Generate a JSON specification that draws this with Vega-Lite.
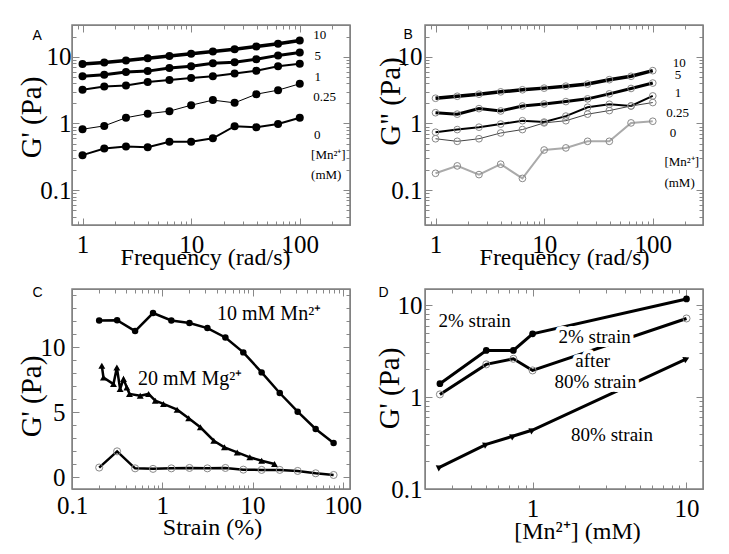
{
  "$schema": "https://vega.github.io/schema/vega-lite/v6.json",
  "background": "white",
  "padding": {"left": 16, "top": 12, "right": 5, "bottom": 5},
  "columns": 2,
  "spacing": {"row": 64, "column": 75},
  "bounds": "flush",
  "datasets": {
    "frame": [{"k": 1}],
    "A": [
      {"f":1,"g":7.8,"mn":10},{"f":1.585,"g":8.2,"mn":10},{"f":2.512,"g":8.8,"mn":10},{"f":3.981,"g":9.5,"mn":10},{"f":6.31,"g":10.3,"mn":10},{"f":10,"g":11.1,"mn":10},{"f":15.85,"g":12.0,"mn":10},{"f":25.12,"g":13.0,"mn":10},{"f":39.81,"g":14.3,"mn":10},{"f":63.1,"g":15.7,"mn":10},{"f":100,"g":17.6,"mn":10},
      {"f":1,"g":5.1,"mn":5},{"f":1.585,"g":5.4,"mn":5},{"f":2.512,"g":5.9,"mn":5},{"f":3.981,"g":6.1,"mn":5},{"f":6.31,"g":6.8,"mn":5},{"f":10,"g":7.2,"mn":5},{"f":15.85,"g":8.0,"mn":5},{"f":25.12,"g":8.3,"mn":5},{"f":39.81,"g":9.2,"mn":5},{"f":63.1,"g":10.5,"mn":5},{"f":100,"g":11.6,"mn":5},
      {"f":1,"g":3.2,"mn":1},{"f":1.585,"g":3.6,"mn":1},{"f":2.512,"g":3.7,"mn":1},{"f":3.981,"g":4.2,"mn":1},{"f":6.31,"g":4.5,"mn":1},{"f":10,"g":4.8,"mn":1},{"f":15.85,"g":5.1,"mn":1},{"f":25.12,"g":5.6,"mn":1},{"f":39.81,"g":6.2,"mn":1},{"f":63.1,"g":7.2,"mn":1},{"f":100,"g":7.9,"mn":1},
      {"f":1,"g":0.82,"mn":0.25},{"f":1.585,"g":0.92,"mn":0.25},{"f":2.512,"g":1.22,"mn":0.25},{"f":3.981,"g":1.40,"mn":0.25},{"f":6.31,"g":1.53,"mn":0.25},{"f":10,"g":1.88,"mn":0.25},{"f":15.85,"g":2.24,"mn":0.25},{"f":25.12,"g":2.04,"mn":0.25},{"f":39.81,"g":2.75,"mn":0.25},{"f":63.1,"g":3.16,"mn":0.25},{"f":100,"g":3.94,"mn":0.25},
      {"f":1,"g":0.335,"mn":0},{"f":1.585,"g":0.42,"mn":0},{"f":2.512,"g":0.45,"mn":0},{"f":3.981,"g":0.44,"mn":0},{"f":6.31,"g":0.53,"mn":0},{"f":10,"g":0.53,"mn":0},{"f":15.85,"g":0.60,"mn":0},{"f":25.12,"g":0.91,"mn":0},{"f":39.81,"g":0.88,"mn":0},{"f":63.1,"g":0.98,"mn":0},{"f":100,"g":1.22,"mn":0}
    ],
    "B": [
      {"f":1,"g":2.39,"mn":10},{"f":1.585,"g":2.56,"mn":10},{"f":2.512,"g":2.75,"mn":10},{"f":3.981,"g":2.98,"mn":10},{"f":6.31,"g":3.2,"mn":10},{"f":10,"g":3.39,"mn":10},{"f":15.85,"g":3.63,"mn":10},{"f":25.12,"g":3.9,"mn":10},{"f":39.81,"g":4.54,"mn":10},{"f":63.1,"g":5.1,"mn":10},{"f":100,"g":6.2,"mn":10},
      {"f":1,"g":1.45,"mn":5},{"f":1.585,"g":1.38,"mn":5},{"f":2.512,"g":1.67,"mn":5},{"f":3.981,"g":1.54,"mn":5},{"f":6.31,"g":1.83,"mn":5},{"f":10,"g":1.96,"mn":5},{"f":15.85,"g":2.13,"mn":5},{"f":25.12,"g":2.34,"mn":5},{"f":39.81,"g":2.78,"mn":5},{"f":63.1,"g":3.35,"mn":5},{"f":100,"g":4.04,"mn":5},
      {"f":1,"g":0.74,"mn":1},{"f":1.585,"g":0.81,"mn":1},{"f":2.512,"g":0.88,"mn":1},{"f":3.981,"g":0.98,"mn":1},{"f":6.31,"g":1.10,"mn":1},{"f":10,"g":1.05,"mn":1},{"f":15.85,"g":1.29,"mn":1},{"f":25.12,"g":1.75,"mn":1},{"f":39.81,"g":1.94,"mn":1},{"f":63.1,"g":1.83,"mn":1},{"f":100,"g":2.59,"mn":1},
      {"f":1,"g":0.59,"mn":0.25},{"f":1.585,"g":0.54,"mn":0.25},{"f":2.512,"g":0.59,"mn":0.25},{"f":3.981,"g":0.72,"mn":0.25},{"f":6.31,"g":0.81,"mn":0.25},{"f":10,"g":1.02,"mn":0.25},{"f":15.85,"g":1.10,"mn":0.25},{"f":25.12,"g":1.38,"mn":0.25},{"f":39.81,"g":1.56,"mn":0.25},{"f":63.1,"g":1.83,"mn":0.25},{"f":100,"g":2.06,"mn":0.25},
      {"f":1,"g":0.179,"mn":0},{"f":1.585,"g":0.231,"mn":0},{"f":2.512,"g":0.171,"mn":0},{"f":3.981,"g":0.245,"mn":0},{"f":6.31,"g":0.150,"mn":0},{"f":10,"g":0.40,"mn":0},{"f":15.85,"g":0.43,"mn":0},{"f":25.12,"g":0.54,"mn":0},{"f":39.81,"g":0.54,"mn":0},{"f":63.1,"g":1.02,"mn":0},{"f":100,"g":1.08,"mn":0}
    ],
    "C": [
      {"s":"Mn","strain":0.2,"g":12.08},{"s":"Mn","strain":0.316,"g":12.1},{"s":"Mn","strain":0.5,"g":11.26},{"s":"Mn","strain":0.79,"g":12.65},{"s":"Mn","strain":1.26,"g":12.08},{"s":"Mn","strain":2,"g":11.88},{"s":"Mn","strain":3.16,"g":11.49},{"s":"Mn","strain":5,"g":10.77},{"s":"Mn","strain":7.9,"g":9.62},{"s":"Mn","strain":12.6,"g":8.08},{"s":"Mn","strain":20,"g":6.49},{"s":"Mn","strain":31.6,"g":5.05},{"s":"Mn","strain":50,"g":3.72},{"s":"Mn","strain":79,"g":2.65},
      {"s":"none","strain":0.2,"g":0.75},{"s":"none","strain":0.316,"g":2.0},{"s":"none","strain":0.5,"g":0.69},{"s":"none","strain":0.79,"g":0.65},{"s":"none","strain":1.26,"g":0.69},{"s":"none","strain":2,"g":0.72},{"s":"none","strain":3.16,"g":0.69},{"s":"none","strain":5,"g":0.72},{"s":"none","strain":7.9,"g":0.59},{"s":"none","strain":12.6,"g":0.57},{"s":"none","strain":20,"g":0.57},{"s":"none","strain":31.6,"g":0.49},{"s":"none","strain":50,"g":0.31},{"s":"none","strain":79,"g":0.18},
      {"s":"Mg","strain":0.214,"g":8.59},{"s":"Mg","strain":0.223,"g":7.69},{"s":"Mg","strain":0.288,"g":7.18},{"s":"Mg","strain":0.314,"g":8.46},{"s":"Mg","strain":0.341,"g":6.8},{"s":"Mg","strain":0.372,"g":7.57},{"s":"Mg","strain":0.405,"g":6.92},{"s":"Mg","strain":0.433,"g":6.42},{"s":"Mg","strain":0.57,"g":6.28},{"s":"Mg","strain":0.705,"g":6.42},{"s":"Mg","strain":0.836,"g":5.9},{"s":"Mg","strain":1.03,"g":5.65},{"s":"Mg","strain":1.46,"g":5.21},{"s":"Mg","strain":1.96,"g":4.54},{"s":"Mg","strain":2.64,"g":3.85},{"s":"Mg","strain":3.72,"g":2.82},{"s":"Mg","strain":4.88,"g":2.31},{"s":"Mg","strain":6.76,"g":1.92},{"s":"Mg","strain":9.33,"g":1.54},{"s":"Mg","strain":12.6,"g":1.28},{"s":"Mg","strain":17.5,"g":1.03}
    ],
    "D": [
      {"s":"2%","mn":0.25,"g":1.4},{"s":"2%","mn":0.5,"g":3.22},{"s":"2%","mn":0.75,"g":3.22},{"s":"2%","mn":1,"g":4.88},{"s":"2%","mn":10,"g":11.7},
      {"s":"after","mn":0.25,"g":1.07},{"s":"after","mn":0.5,"g":2.27},{"s":"after","mn":0.75,"g":2.61},{"s":"after","mn":1,"g":1.95},{"s":"after","mn":10,"g":7.17},
      {"s":"80%","mn":0.25,"g":0.173},{"s":"80%","mn":0.5,"g":0.306},{"s":"80%","mn":0.75,"g":0.377},{"s":"80%","mn":1,"g":0.438},{"s":"80%","mn":10,"g":2.61}
    ],
    "annA": [
      {"x":133,"y":20.9,"t":"10"},{"x":137,"y":10.3,"t":"5"},{"x":137,"y":5.0,"t":"1"},{"x":133,"y":2.5,"t":"0.25"},{"x":135,"y":0.67,"t":"0"},{"x":127,"y":0.336,"t":"[Mn²⁺]"},{"x":127,"y":0.168,"t":"(mM)"}
    ],
    "annB": [
      {"x":153,"y":8.2,"t":"10"},{"x":159,"y":5.35,"t":"5"},{"x":159,"y":2.88,"t":"1"},{"x":133,"y":1.45,"t":"0.25"},{"x":143,"y":0.72,"t":"0"},{"x":128,"y":0.263,"t":"[Mn²⁺]"},{"x":128,"y":0.126,"t":"(mM)"}
    ],
    "annC": [
      {"x":4.04,"y":12.6,"t":"10 mM Mn²⁺"},{"x":0.54,"y":7.6,"t":"20 mM Mg²⁺"}
    ],
    "annD": [
      {"x":0.42,"y":6.7,"t":"2% strain"},{"x":2.53,"y":4.52,"t":"2% strain"},{"x":2.46,"y":2.5,"t":"after"},{"x":2.56,"y":1.47,"t":"80% strain"},{"x":3.28,"y":0.386,"t":"80% strain"}
    ]
  },
  "concat": [
    {
      "width": 278, "height": 200,
      "layer": [
        {
          "data": {"name": "A"},
          "mark": {"type": "line", "color": "black"},
          "encoding": {
            "x": {"field": "f", "type": "quantitative", "scale": {"type": "log", "domain": [0.8, 290], "nice": false},
              "axis": {"orient": "bottom", "values": [0.8,0.9,1,2,3,4,5,6,7,8,9,10,20,30,40,50,60,70,80,90,100,200],
                "labelExpr": "indexof([1,10,100], datum.value) >= 0 ? '' + datum.value : ''",
                "tickSize": {"condition": {"test": "indexof([1,10,100], datum.value) >= 0", "value": -7}, "value": -4},
                "labelBaseline": "alphabetic", "labelPadding": 34,
                "title": "Frequency (rad/s)", "titleFontSize": 24, "titleX": 133, "titleY": 39, "titleBaseline": "alphabetic", "titleAlign": "center"}},
            "y": {"field": "g", "type": "quantitative", "scale": {"type": "log", "domain": [0.03, 30], "nice": false},
              "axis": {"orient": "left", "values": [0.03,0.04,0.05,0.06,0.07,0.08,0.09,0.1,0.2,0.3,0.4,0.5,0.6,0.7,0.8,0.9,1,2,3,4,5,6,7,8,9,10,20,30],
                "labelExpr": "indexof([0.1,1,10], datum.value) >= 0 ? '' + datum.value : ''",
                "tickSize": {"condition": {"test": "indexof([0.1,1,10], datum.value) >= 0", "value": -7}, "value": -4},
                "labelPadding": 8,
                "title": "G' (Pa)", "titleFontSize": 29, "titleX": -32, "titleY": 92, "titleBaseline": "alphabetic", "titleAlign": "center", "titleAngle": -90}},
            "strokeWidth": {"field": "mn", "type": "ordinal", "scale": {"type": "ordinal", "domain": [0,0.25,1,5,10], "range": [2,1,2,3,3.5]}, "legend": null}
          }
        },
        {
          "data": {"name": "A"},
          "mark": {"type": "point", "shape": "circle", "filled": true, "color": "black", "size": 64, "opacity": 1},
          "encoding": {"x": {"field": "f", "type": "quantitative", "axis": null}, "y": {"field": "g", "type": "quantitative", "axis": null}}
        },
        {
          "data": {"name": "annA"},
          "mark": {"type": "text", "align": "left", "baseline": "middle", "font": "Liberation Serif", "fontSize": 13, "color": "black"},
          "encoding": {
            "x": {"field": "x", "type": "quantitative", "axis": {"orient": "top", "labels": false, "values": [0.8,0.9,1,2,3,4,5,6,7,8,9,10,20,30,40,50,60,70,80,90,100,200],
              "tickSize": {"condition": {"test": "indexof([1,10,100], datum.value) >= 0", "value": -7}, "value": -4},
              "title": "A", "titleFont": "Liberation Sans", "titleFontSize": 14, "titleX": -40, "titleY": 3, "titleBaseline": "top", "titleAlign": "left", "titleAngle": 0}},
            "y": {"field": "y", "type": "quantitative", "axis": {"orient": "right", "labels": false, "title": null, "values": [0.03,0.04,0.05,0.06,0.07,0.08,0.09,0.1,0.2,0.3,0.4,0.5,0.6,0.7,0.8,0.9,1,2,3,4,5,6,7,8,9,10,20,30],
              "tickSize": {"condition": {"test": "indexof([0.1,1,10], datum.value) >= 0", "value": -7}, "value": -4}}},
            "text": {"field": "t"}
          }
        },
        {
          "data": {"name": "frame"},
          "mark": {"type": "rect", "fill": "transparent", "stroke": "#808080", "strokeWidth": 1.5},
          "encoding": {"x": {"datum": 0.8, "type": "quantitative", "axis": null}, "x2": {"datum": 290}, "y": {"datum": 0.03, "type": "quantitative", "axis": null}, "y2": {"datum": 30}}
        }
      ],
      "resolve": {"axis": {"x": "independent", "y": "independent"}}
    },
    {
      "width": 278, "height": 200,
      "layer": [
        {
          "data": {"name": "B"},
          "mark": {"type": "line"},
          "encoding": {
            "x": {"field": "f", "type": "quantitative", "scale": {"type": "log", "domain": [0.8, 290], "nice": false},
              "axis": {"orient": "bottom", "values": [0.8,0.9,1,2,3,4,5,6,7,8,9,10,20,30,40,50,60,70,80,90,100,200],
                "labelExpr": "indexof([1,10,100], datum.value) >= 0 ? '' + datum.value : ''",
                "tickSize": {"condition": {"test": "indexof([1,10,100], datum.value) >= 0", "value": -7}, "value": -4},
                "labelBaseline": "alphabetic", "labelPadding": 34,
                "title": "Frequency (rad/s)", "titleFontSize": 24, "titleX": 139, "titleY": 39, "titleBaseline": "alphabetic", "titleAlign": "center"}},
            "y": {"field": "g", "type": "quantitative", "scale": {"type": "log", "domain": [0.03, 30], "nice": false},
              "axis": {"orient": "left", "values": [0.03,0.04,0.05,0.06,0.07,0.08,0.09,0.1,0.2,0.3,0.4,0.5,0.6,0.7,0.8,0.9,1,2,3,4,5,6,7,8,9,10,20,30],
                "labelExpr": "indexof([0.1,1,10], datum.value) >= 0 ? '' + datum.value : ''",
                "tickSize": {"condition": {"test": "indexof([0.1,1,10], datum.value) >= 0", "value": -7}, "value": -4},
                "labelPadding": 10,
                "title": "G\" (Pa)", "titleFontSize": 29, "titleX": -26, "titleY": 76, "titleBaseline": "alphabetic", "titleAlign": "center", "titleAngle": -90}},
            "strokeWidth": {"field": "mn", "type": "ordinal", "scale": {"type": "ordinal", "domain": [0,0.25,1,5,10], "range": [1,1,1.5,3,3.5]}, "legend": null},
            "color": {"field": "mn", "type": "ordinal", "scale": {"type": "ordinal", "domain": [0,0.25,1,5,10], "range": ["#aaaaaa","#444444","#000000","#000000","#000000"]}, "legend": null}
          }
        },
        {
          "data": {"name": "B"},
          "mark": {"type": "point", "shape": "circle", "filled": false, "color": "#888888", "strokeWidth": 1, "size": 45, "opacity": 1},
          "encoding": {"x": {"field": "f", "type": "quantitative", "axis": null}, "y": {"field": "g", "type": "quantitative", "axis": null}}
        },
        {
          "data": {"name": "annB"},
          "mark": {"type": "text", "align": "left", "baseline": "middle", "font": "Liberation Serif", "fontSize": 13, "color": "black"},
          "encoding": {
            "x": {"field": "x", "type": "quantitative", "axis": {"orient": "top", "labels": false, "values": [0.8,0.9,1,2,3,4,5,6,7,8,9,10,20,30,40,50,60,70,80,90,100,200],
              "tickSize": {"condition": {"test": "indexof([1,10,100], datum.value) >= 0", "value": -7}, "value": -4},
              "title": "B", "titleFont": "Liberation Sans", "titleFontSize": 14, "titleX": -22, "titleY": 2, "titleBaseline": "top", "titleAlign": "left", "titleAngle": 0}},
            "y": {"field": "y", "type": "quantitative", "axis": {"orient": "right", "labels": false, "title": null, "values": [0.03,0.04,0.05,0.06,0.07,0.08,0.09,0.1,0.2,0.3,0.4,0.5,0.6,0.7,0.8,0.9,1,2,3,4,5,6,7,8,9,10,20,30],
              "tickSize": {"condition": {"test": "indexof([0.1,1,10], datum.value) >= 0", "value": -7}, "value": -4}}},
            "text": {"field": "t"}
          }
        },
        {
          "data": {"name": "frame"},
          "mark": {"type": "rect", "fill": "transparent", "stroke": "#808080", "strokeWidth": 1.5},
          "encoding": {"x": {"datum": 0.8, "type": "quantitative", "axis": null}, "x2": {"datum": 290}, "y": {"datum": 0.03, "type": "quantitative", "axis": null}, "y2": {"datum": 30}}
        }
      ],
      "resolve": {"axis": {"x": "independent", "y": "independent"}}
    },
    {
      "width": 278, "height": 200,
      "layer": [
        {
          "data": {"name": "C"},
          "mark": {"type": "line", "color": "black", "strokeWidth": 2.5},
          "encoding": {
            "x": {"field": "strain", "type": "quantitative", "scale": {"type": "log", "domain": [0.1, 120], "nice": false},
              "axis": {"orient": "bottom", "values": [0.1,0.2,0.3,0.4,0.5,0.6,0.7,0.8,0.9,1,2,3,4,5,6,7,8,9,10,20,30,40,50,60,70,80,90,100],
                "labelExpr": "indexof([0.1,1,10,100], datum.value) >= 0 ? '' + datum.value : ''",
                "tickSize": {"condition": {"test": "indexof([0.1,1,10,100], datum.value) >= 0", "value": -7}, "value": -4},
                "labelBaseline": "alphabetic", "labelPadding": 31,
                "title": "Strain (%)", "titleFontSize": 24, "titleX": 140, "titleY": 45, "titleBaseline": "alphabetic", "titleAlign": "center"}},
            "y": {"field": "g", "type": "quantitative", "scale": {"domain": [-0.9, 14.5], "nice": false, "zero": false},
              "axis": {"orient": "left", "values": [0,1,2,3,4,5,6,7,8,9,10,11,12,13,14],
                "labelExpr": "indexof([0,5,10], datum.value) >= 0 ? '' + datum.value : ''",
                "tickSize": {"condition": {"test": "indexof([0,5,10], datum.value) >= 0", "value": -7}, "value": -4},
                "labelPadding": 14,
                "title": "G' (Pa)", "titleFontSize": 29, "titleX": -32, "titleY": 107, "titleBaseline": "alphabetic", "titleAlign": "center", "titleAngle": -90}},
            "detail": {"field": "s"}
          }
        },
        {
          "data": {"name": "C"},
          "transform": [{"filter": "datum.s == 'Mn'"}],
          "mark": {"type": "point", "shape": "circle", "filled": true, "color": "black", "size": 42, "opacity": 1},
          "encoding": {"x": {"field": "strain", "type": "quantitative", "axis": null}, "y": {"field": "g", "type": "quantitative", "axis": null}}
        },
        {
          "data": {"name": "C"},
          "transform": [{"filter": "datum.s == 'Mg'"}],
          "mark": {"type": "point", "shape": "triangle-up", "filled": true, "color": "black", "size": 48, "opacity": 1},
          "encoding": {"x": {"field": "strain", "type": "quantitative", "axis": null}, "y": {"field": "g", "type": "quantitative", "axis": null}}
        },
        {
          "data": {"name": "C"},
          "transform": [{"filter": "datum.s == 'none'"}],
          "mark": {"type": "point", "shape": "circle", "filled": false, "color": "#888888", "strokeWidth": 1, "size": 50, "opacity": 1},
          "encoding": {"x": {"field": "strain", "type": "quantitative", "axis": null}, "y": {"field": "g", "type": "quantitative", "axis": null}}
        },
        {
          "data": {"name": "annC"},
          "mark": {"type": "text", "align": "left", "baseline": "middle", "font": "Liberation Serif", "fontSize": 20, "color": "black"},
          "encoding": {
            "x": {"field": "x", "type": "quantitative", "axis": {"orient": "top", "labels": false, "values": [0.1,0.2,0.3,0.4,0.5,0.6,0.7,0.8,0.9,1,2,3,4,5,6,7,8,9,10,20,30,40,50,60,70,80,90,100],
              "tickSize": {"condition": {"test": "indexof([0.1,1,10,100], datum.value) >= 0", "value": -7}, "value": -4},
              "title": "C", "titleFont": "Liberation Sans", "titleFontSize": 14, "titleX": -40, "titleY": -4, "titleBaseline": "top", "titleAlign": "left", "titleAngle": 0}},
            "y": {"field": "y", "type": "quantitative", "axis": {"orient": "right", "labels": false, "title": null, "values": [0,1,2,3,4,5,6,7,8,9,10,11,12,13,14],
              "tickSize": {"condition": {"test": "indexof([0,5,10], datum.value) >= 0", "value": -7}, "value": -4}}},
            "text": {"field": "t"}
          }
        },
        {
          "data": {"name": "frame"},
          "mark": {"type": "rect", "fill": "transparent", "stroke": "#808080", "strokeWidth": 1.5},
          "encoding": {"x": {"datum": 0.1, "type": "quantitative", "axis": null}, "x2": {"datum": 120}, "y": {"datum": -0.9, "type": "quantitative", "axis": null}, "y2": {"datum": 14.5}}
        }
      ],
      "resolve": {"axis": {"x": "independent", "y": "independent"}}
    },
    {
      "width": 278, "height": 200,
      "layer": [
        {
          "data": {"name": "D"},
          "mark": {"type": "line", "color": "black", "strokeWidth": 3},
          "encoding": {
            "x": {"field": "mn", "type": "quantitative", "scale": {"type": "log", "domain": [0.2, 12.8], "nice": false},
              "axis": {"orient": "bottom", "values": [0.2,0.3,0.4,0.5,0.6,0.7,0.8,0.9,1,2,3,4,5,6,7,8,9,10],
                "labelExpr": "indexof([1,10], datum.value) >= 0 ? '' + datum.value : ''",
                "tickSize": {"condition": {"test": "indexof([1,10], datum.value) >= 0", "value": -7}, "value": -4},
                "labelBaseline": "alphabetic", "labelPadding": 34,
                "title": "[Mn²⁺] (mM)", "titleFontSize": 24, "titleX": 152, "titleY": 49, "titleBaseline": "alphabetic", "titleAlign": "center"}},
            "y": {"field": "g", "type": "quantitative", "scale": {"type": "log", "domain": [0.1, 15], "nice": false},
              "axis": {"orient": "left", "values": [0.1,0.2,0.3,0.4,0.5,0.6,0.7,0.8,0.9,1,2,3,4,5,6,7,8,9,10],
                "labelExpr": "indexof([0.1,1,10], datum.value) >= 0 ? '' + datum.value : ''",
                "tickSize": {"condition": {"test": "indexof([0.1,1,10], datum.value) >= 0", "value": -7}, "value": -4},
                "labelPadding": 10,
                "title": "G' (Pa)", "titleFontSize": 29, "titleX": -27, "titleY": 99, "titleBaseline": "alphabetic", "titleAlign": "center", "titleAngle": -90}},
            "detail": {"field": "s"}
          }
        },
        {
          "data": {"name": "D"},
          "transform": [{"filter": "datum.s == '2%'"}],
          "mark": {"type": "point", "shape": "circle", "filled": true, "color": "black", "size": 45, "opacity": 1},
          "encoding": {"x": {"field": "mn", "type": "quantitative", "axis": null}, "y": {"field": "g", "type": "quantitative", "axis": null}}
        },
        {
          "data": {"name": "D"},
          "transform": [{"filter": "datum.s == 'after'"}],
          "mark": {"type": "point", "shape": "circle", "filled": false, "color": "#888888", "strokeWidth": 1, "size": 50, "opacity": 1},
          "encoding": {"x": {"field": "mn", "type": "quantitative", "axis": null}, "y": {"field": "g", "type": "quantitative", "axis": null}}
        },
        {
          "data": {"name": "D"},
          "transform": [{"filter": "datum.s == '80%'"}],
          "mark": {"type": "point", "shape": "triangle-right", "angle": -25, "filled": true, "color": "black", "size": 48, "opacity": 1},
          "encoding": {"x": {"field": "mn", "type": "quantitative", "axis": null}, "y": {"field": "g", "type": "quantitative", "axis": null}}
        },
        {
          "data": {"name": "annD"},
          "mark": {"type": "text", "align": "center", "baseline": "middle", "font": "Liberation Serif", "fontSize": 19, "color": "white", "stroke": "white", "strokeWidth": 8, "strokeJoin": "round"},
          "encoding": {"x": {"field": "x", "type": "quantitative", "axis": null}, "y": {"field": "y", "type": "quantitative", "axis": null}, "text": {"field": "t"}}
        },
        {
          "data": {"name": "annD"},
          "mark": {"type": "text", "align": "center", "baseline": "middle", "font": "Liberation Serif", "fontSize": 19, "color": "black"},
          "encoding": {
            "x": {"field": "x", "type": "quantitative", "axis": {"orient": "top", "labels": false, "values": [0.2,0.3,0.4,0.5,0.6,0.7,0.8,0.9,1,2,3,4,5,6,7,8,9,10],
              "tickSize": {"condition": {"test": "indexof([1,10], datum.value) >= 0", "value": -7}, "value": -4},
              "title": "D", "titleFont": "Liberation Sans", "titleFontSize": 14, "titleX": -47, "titleY": -4, "titleBaseline": "top", "titleAlign": "left", "titleAngle": 0}},
            "y": {"field": "y", "type": "quantitative", "axis": {"orient": "right", "labels": false, "title": null, "values": [0.1,0.2,0.3,0.4,0.5,0.6,0.7,0.8,0.9,1,2,3,4,5,6,7,8,9,10],
              "tickSize": {"condition": {"test": "indexof([0.1,1,10], datum.value) >= 0", "value": -7}, "value": -4}}},
            "text": {"field": "t"}
          }
        },
        {
          "data": {"name": "frame"},
          "mark": {"type": "rect", "fill": "transparent", "stroke": "#808080", "strokeWidth": 1.5},
          "encoding": {"x": {"datum": 0.2, "type": "quantitative", "axis": null}, "x2": {"datum": 12.8}, "y": {"datum": 0.1, "type": "quantitative", "axis": null}, "y2": {"datum": 15}}
        }
      ],
      "resolve": {"axis": {"x": "independent", "y": "independent"}}
    }
  ],
  "config": {
    "view": {"stroke": "#888888", "strokeWidth": 1},
    "axis": {"domain": false, "grid": false, "tickColor": "#888888", "tickWidth": 1, "labelFont": "Liberation Serif", "labelFontSize": 25, "labelColor": "black", "labelOverlap": false, "labelFlush": false, "labelBound": false, "titleFont": "Liberation Serif", "titleFontWeight": "normal", "titleColor": "black"}
  }
}
